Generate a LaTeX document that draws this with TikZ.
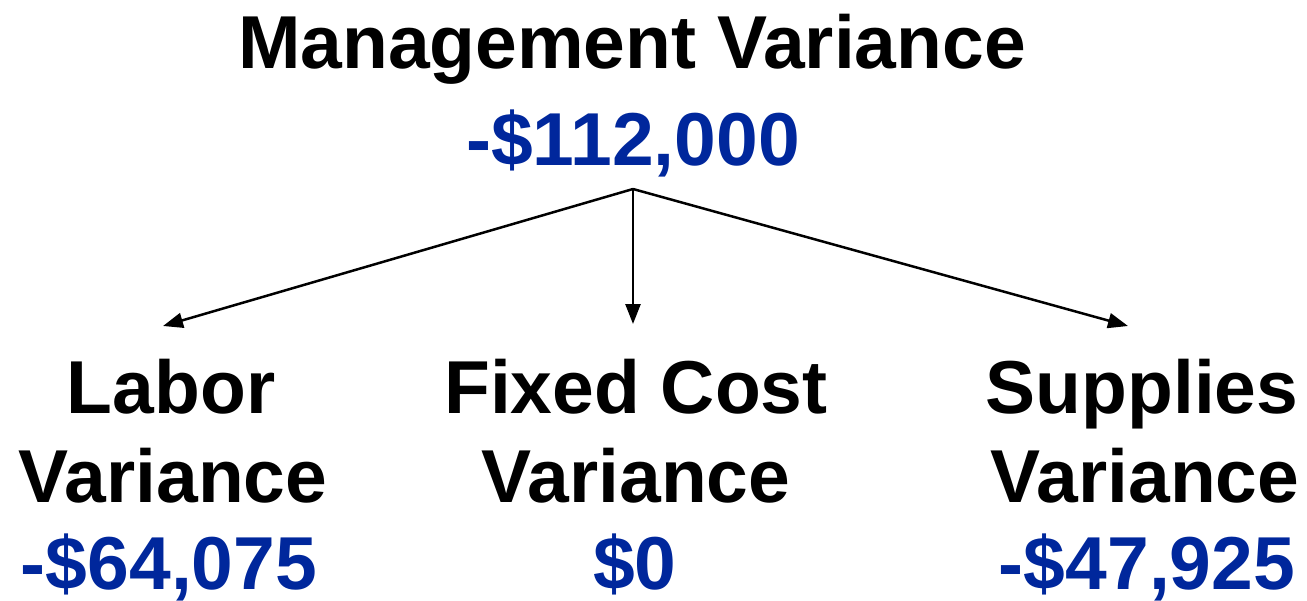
\documentclass[tikz,border=0pt]{standalone}
\usepackage{fontspec}
\setmainfont{Liberation Sans}
\usetikzlibrary{arrows.meta}
\definecolor{valblue}{HTML}{00279C}
\tikzset{
  lbl/.style={anchor=base, inner sep=0pt, font=\fontsize{75}{82}\selectfont\bfseries, text=black},
  val/.style={lbl, text=valblue},
  conn/.style={line width=2.5pt, -{Triangle[length=20pt,width=15pt]}}
}
\begin{document}
\begin{tikzpicture}[x=1pt,y=-1pt]
\useasboundingbox (0,0) rectangle (1307,600);
\node[lbl] (mgmt) at (632,68) {Management Variance};
\node[val] (mgmtv) at (633,165) {-\$112,000};
\node[lbl] (lab1) at (171,413) {Labor};
\node[lbl] (lab2) at (173,502) {Variance};
\node[val] (labv) at (169,589) {-\$64,075};
\node[lbl] (fix1) at (636,413) {Fixed Cost};
\node[lbl] (fix2) at (636,502) {Variance};
\node[val] (fixv) at (635,589) {\$0};
\node[lbl] (sup1) at (1142,413) {Supplies};
\node[lbl] (sup2) at (1145,502) {Variance};
\node[val] (supv) at (1147,589) {-\$47,925};
\coordinate (root) at (633,189);
\coordinate (lt) at (163,326);
\coordinate (ft) at (633,324);
\coordinate (st) at (1128,326);
\draw[conn] (root) -- (lt);
\draw[conn] (root) -- (ft);
\draw[conn] (root) -- (st);
\end{tikzpicture}
\end{document}
